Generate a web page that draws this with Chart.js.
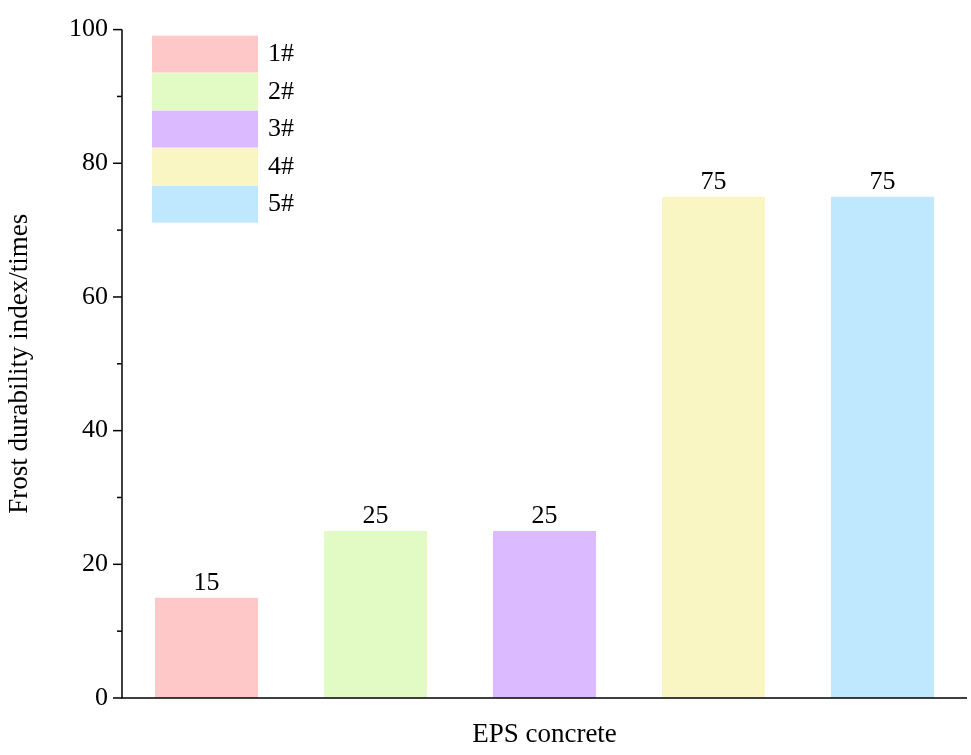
<!DOCTYPE html>
<html><head><meta charset="utf-8">
<script src="https://cdn.jsdelivr.net/npm/chart.js@4"></script>
<style>body{margin:0;background:#fff}#w{width:971px;height:755px}</style>
</head><body><div id="w"><canvas id="c"></canvas></div>
<script>
const categories = ["1#","2#","3#","4#","5#"];
const values = [15,25,25,75,75];
const colors = ["#FFC8C8","#E2FBC4","#DCBAFF","#F9F6C4","#BFE8FF"];
const yTicks = [0,20,40,60,80,100];
const F = "'Liberation Serif','Times New Roman',serif";

const datasets = categories.map((c,i)=>({
  label:c,
  data: categories.map((_,j)=> j===i ? values[i] : null),
  backgroundColor: colors[i],
  grouped:false,
  barPercentage: 0.61, categoryPercentage: 1
}));

const extras = {
  id:'extras',
  afterDraw(ch){
    const ctx=ch.ctx, y=ch.scales.y, a=ch.chartArea;
    ctx.save();
    ctx.strokeStyle='#000'; ctx.lineWidth=1.5;
    ctx.beginPath(); ctx.moveTo(a.left,a.top); ctx.lineTo(a.left,a.bottom); ctx.lineTo(a.right,a.bottom); ctx.stroke();
    for(let v=0; v<=100; v+=10){
      const py=y.getPixelForValue(v), len = v%20===0?9:5;
      ctx.beginPath(); ctx.moveTo(a.left,py); ctx.lineTo(a.left-len,py); ctx.stroke();
    }
    ctx.fillStyle='#000'; ctx.font='26px '+F; ctx.textAlign='center'; ctx.textBaseline='bottom';
    ch.data.datasets.forEach((ds,i)=>{
      const el=ch.getDatasetMeta(i).data[i];
      ctx.fillText(String(values[i]), el.x, el.y-2);
    });
    ctx.textAlign='left'; ctx.textBaseline='middle'; ctx.font='26px '+F;
    categories.forEach((c,i)=>{
      const top=a.top+6+i*37.5;
      ctx.fillStyle=colors[i]; ctx.fillRect(a.left+30, top, 106, 37);
      ctx.fillStyle='#000'; ctx.fillText(c, a.left+146, top+19);
    });
    ctx.restore();
  }
};

new Chart(document.getElementById('c'),{
  type:'bar',
  data:{labels:categories, datasets},
  options:{
    responsive:true, maintainAspectRatio:false, animation:false,
    layout:{padding:{top:4,right:4,left:0,bottom:0}},
    plugins:{legend:{display:false},tooltip:{enabled:false}},
    scales:{
      x:{grid:{display:false,drawTicks:false}, border:{display:false}, ticks:{display:false},
         title:{display:true,text:'EPS concrete',font:{family:F,size:27},color:'#000',padding:{top:22}},
         afterFit(s){s.height=57;}},
      y:{min:0,max:100, grid:{display:false,drawTicks:false}, border:{display:false},
         afterBuildTicks(s){s.ticks=yTicks.map(v=>({value:v}));},
         ticks:{font:{family:F,size:26},color:'#000',padding:14},
         title:{display:true,text:'Frost durability index/times',font:{family:F,size:27},color:'#000',padding:{bottom:4}},
         afterFit(s){s.width=122;}}
    }
  },
  plugins:[extras]
});
</script></body></html>
